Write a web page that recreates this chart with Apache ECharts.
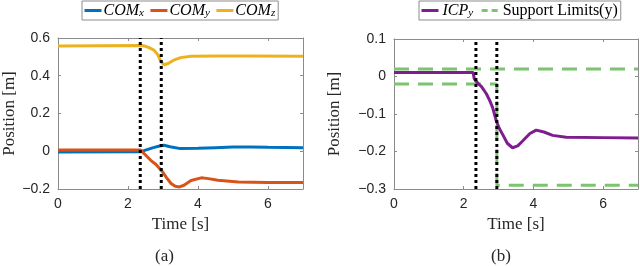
<!DOCTYPE html>
<html>
<head>
<meta charset="utf-8">
<script src="https://cdn.jsdelivr.net/npm/echarts@6/dist/echarts.min.js"></script>
<style>
html,body{margin:0;padding:0;background:#fff;}
#chart{width:640px;height:266px;}
</style>
</head>
<body>
<div id="chart"></div>
<script>
// ---- data ----
var xTicks = [0, 2, 4, 6];
var leftYTicks = [-0.2, 0, 0.2, 0.4, 0.6];
var rightYTicks = [-0.3, -0.2, -0.1, 0, 0.1];
var dividerTimes = [2.35, 2.95];

var comXT = [0, 2.35, 2.5, 2.7, 2.9, 3.03, 3.2, 3.5, 4.0, 4.5, 5.0, 5.5, 6.0, 6.5, 7.0];
var comXV = [-0.004, -0.003, 0.006, 0.018, 0.028, 0.032, 0.024, 0.014, 0.016, 0.019, 0.022, 0.023, 0.021, 0.020, 0.019];

var comYT = [0, 2.35, 2.5, 2.65, 2.8, 2.99, 3.1, 3.23, 3.35, 3.47, 3.6, 3.8, 4.09, 4.3, 4.57, 5.15, 6, 7];
var comYV = [0.007, 0.007, -0.02, -0.048, -0.07, -0.11, -0.14, -0.171, -0.186, -0.189, -0.18, -0.155, -0.141, -0.145, -0.154, -0.163, -0.165, -0.166];

var comZT = [0, 2.4, 2.5, 2.6, 2.74, 2.85, 2.94, 3.03, 3.15, 3.31, 3.5, 3.8, 4.5, 5.5, 7];
var comZV = [0.558, 0.560, 0.556, 0.549, 0.536, 0.512, 0.475, 0.458, 0.465, 0.483, 0.496, 0.503, 0.505, 0.505, 0.503];

var icpT = [0, 2.27, 2.3, 2.34, 2.45, 2.51, 2.65, 2.75, 2.83, 2.94, 3.03, 3.12, 3.25, 3.4, 3.55, 3.69, 3.9, 4.08, 4.3, 4.55, 4.94, 6, 7];
var icpV = [0.011, 0.011, -0.005, -0.011, -0.022, -0.027, -0.046, -0.065, -0.083, -0.12, -0.14, -0.155, -0.178, -0.19, -0.185, -0.172, -0.152, -0.143, -0.148, -0.157, -0.162, -0.163, -0.164];

var limUpT = [0, 7];
var limUpV = [0.02, 0.02];
var limLoT = [0, 2.95, 2.95, 7];
var limLoV = [-0.02, -0.02, -0.29, -0.29];

function zip(t, v) { return t.map(function (x, i) { return [x, v[i]]; }); }
function fmt(v) { return String(v).replace('-', '\u2212'); }

var tickFont = 'Liberation Sans, Arial, sans-serif';
var serif = 'Liberation Serif, Times New Roman, serif';
var axisColor = '#8c8c8c';

function xAxisDef(grid, pos, show) {
  return {
    type: 'value', gridIndex: grid, position: pos, min: 0, max: 7, interval: xTicks[1] - xTicks[0],
    splitLine: { show: false },
    axisLine: { show: true, onZero: false, lineStyle: { color: axisColor, width: 1 } },
    axisTick: { show: true, inside: true, length: 3, lineStyle: { color: axisColor } },
    axisLabel: { show: show, showMaxLabel: false, margin: 8, fontSize: 14, color: '#262626', fontFamily: tickFont, formatter: fmt },
    name: show ? 'Time [s]' : '', nameLocation: 'middle', nameGap: 25,
    nameTextStyle: { fontFamily: serif, fontSize: 17, color: '#262626' }
  };
}
function yAxisDef(grid, pos, show, ticks, gap) {
  var step = ticks[1] - ticks[0];
  return {
    type: 'value', gridIndex: grid, position: pos, min: ticks[0], max: ticks[ticks.length - 1], interval: step,
    splitLine: { show: false },
    axisLine: { show: true, onZero: false, lineStyle: { color: axisColor, width: 1 } },
    axisTick: { show: true, inside: true, length: 3, lineStyle: { color: axisColor } },
    axisLabel: { show: show, margin: 8, fontSize: 14, color: '#262626', fontFamily: tickFont,
      formatter: function (v) { return fmt(+v.toFixed(2)); } },
    name: show ? 'Position [m]' : '', nameLocation: 'middle', nameGap: gap, nameRotate: 90,
    nameTextStyle: { fontFamily: serif, fontSize: 17, color: '#262626' }
  };
}

function lineSeries(name, data, color, xi, yi, extra) {
  var s = {
    name: name, type: 'line', xAxisIndex: xi, yAxisIndex: yi, data: data,
    symbol: 'none', showSymbol: false, smooth: false, animation: false,
    lineStyle: { color: color, width: 3 }, itemStyle: { color: color }, z: 2
  };
  if (extra) { for (var k in extra) s[k] = extra[k]; }
  return s;
}

var green = '#7cc46f';
var series = [
  lineSeries('COMx', zip(comXT, comXV), '#0072BD', 0, 0),
  lineSeries('COMy', zip(comYT, comYV), '#D95319', 0, 0),
  lineSeries('COMz', zip(comZT, comZV), '#EDB120', 0, 0),
  lineSeries('Support Limits(y)', zip(limUpT, limUpV), green, 2, 2, { lineStyle: { color: green, width: 3, type: [15, 9] } }),
  lineSeries('Support Limits(y)', zip(limLoT, limLoV), green, 2, 2, { lineStyle: { color: green, width: 3, type: [15, 9] } }),
  lineSeries('ICPy', zip(icpT, icpV), '#7E1E8E', 2, 2)
];
dividerTimes.forEach(function (t, i) {
  series.push(lineSeries('div' + i, [[t, leftYTicks[0]], [t, leftYTicks[leftYTicks.length - 1]]], '#000', 0, 0,
    { lineStyle: { color: '#000', width: 3, type: [3, 3] }, z: 5 }));
  series.push(lineSeries('divb' + i, [[t, rightYTicks[0]], [t, rightYTicks[rightYTicks.length - 1]]], '#000', 2, 2,
    { lineStyle: { color: '#000', width: 3, type: [3, 3] }, z: 5 }));
});

var legendRich = {
  m: { fontFamily: serif, fontStyle: 'italic', fontSize: 16, color: '#000', lineHeight: 17 },
  s: { fontFamily: serif, fontStyle: 'italic', fontSize: 11, color: '#000', lineHeight: 11, verticalAlign: 'bottom', padding: [6, 0, 0, 0] },
  n: { fontFamily: serif, fontSize: 16, color: '#000', lineHeight: 17 }
};
function legendFmt(name) {
  if (name.indexOf('COM') === 0) return '{m|COM}{s|' + name.slice(3) + '}';
  if (name.indexOf('ICP') === 0) return '{m|ICP}{s|' + name.slice(3) + '}';
  return '{n|' + name + '}';
}
function legendDef(left, data, gap, textPad) {
  return {
    data: data, left: left, top: 1, orient: 'horizontal',
    itemWidth: 17, itemHeight: 12, itemGap: gap,
    padding: [1, 3, 1, 1],
    backgroundColor: '#fff', borderColor: '#8c8c8c', borderWidth: 1, borderRadius: 0,
    selectedMode: false,
    itemStyle: { opacity: 0 },
    lineStyle: { width: 3 },
    formatter: legendFmt,
    textStyle: { rich: legendRich, padding: [0, 0, 0, textPad] }
  };
}

var option = {
  backgroundColor: '#fff',
  animation: false,
  grid: [
    { left: 58, top: 38, width: 245, height: 151 },
    { left: 394, top: 39, width: 244, height: 150 }
  ],
  xAxis: [xAxisDef(0, 'bottom', true), xAxisDef(0, 'top', false), xAxisDef(1, 'bottom', true), xAxisDef(1, 'top', false)],
  yAxis: [yAxisDef(0, 'left', true, leftYTicks, 40), yAxisDef(0, 'right', false, leftYTicks, 0),
          yAxisDef(1, 'left', true, rightYTicks, 51), yAxisDef(1, 'right', false, rightYTicks, 0)],
  legend: [
    legendDef(82, ['COMx', 'COMy', 'COMz'], 5, -3),
    legendDef(419, [{ name: 'ICPy' }, { name: 'Support Limits(y)', lineStyle: { type: [6, 4], width: 3 } }], 7, -1)
  ],
  graphic: [
    { type: 'text', left: 155, top: 248, style: { text: '(a)', font: '17px ' + serif, fill: '#262626' } },
    { type: 'text', left: 491, top: 248, style: { text: '(b)', font: '17px ' + serif, fill: '#262626' } }
  ],
  series: series
};
var chart = echarts.init(document.getElementById('chart'), null, { renderer: 'canvas' });
chart.setOption(option);
</script>
</body>
</html>
